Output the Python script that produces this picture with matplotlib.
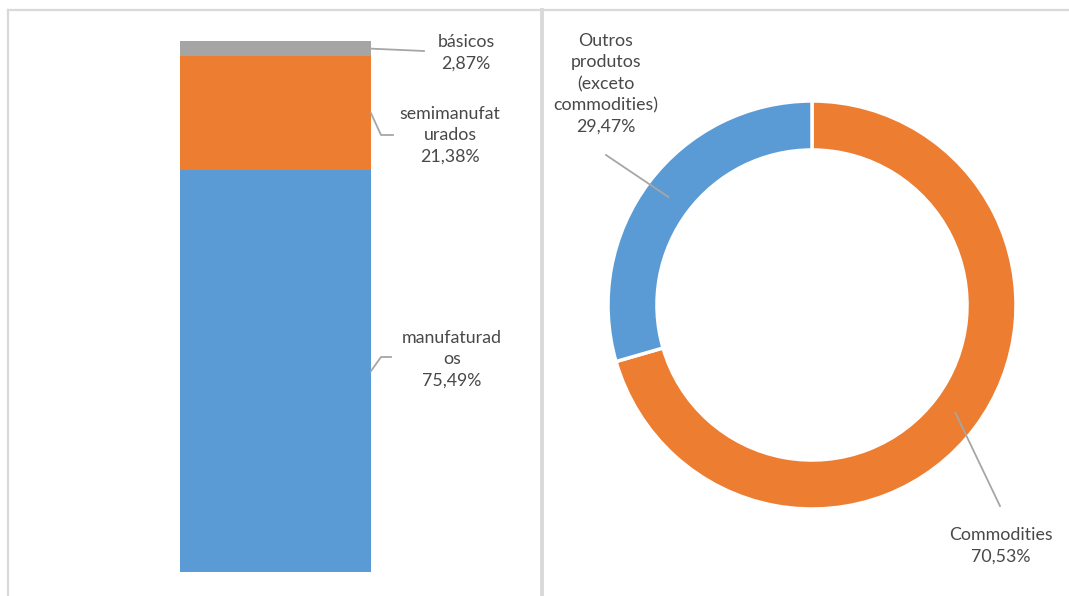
import matplotlib.pyplot as plt
import numpy as np

# export mix by product type (stacked bar) and commodities share (donut)
bar_labels = ['manufaturad\nos', 'semimanufat\nurados', 'básicos']
bar_values = [75.49, 21.38, 2.87]
bar_colors = ['#5B9BD5', '#ED7D31', '#A5A5A5']

pie_labels = ['Commodities', 'Outros\nprodutos\n(exceto\ncommodities)']
pie_values = [70.53, 29.47]
pie_colors = ['#ED7D31', '#5B9BD5']

W, H = 1069, 596
TXT = '#484848'
LEAD = '#A6A6A6'
plt.rcParams['font.family'] = ['Lato', 'DejaVu Sans']

def fmt(v):
    return ('%.2f%%' % v).replace('.', ',')

def box(x0, y0, x1, y1):
    # pixel box (top-left origin) -> figure fraction rect
    return [x0 / W, 1 - y1 / H, (x1 - x0) / W, (y1 - y0) / H]

fig = plt.figure(figsize=(W / 100, H / 100), dpi=100)

# overlay in pixel coords for frames, leader lines and labels (drawn on top)
ov = fig.add_axes([0, 0, 1, 1])
ov.set_xlim(0, W)
ov.set_ylim(H, 0)
ov.axis('off')
ov.set_zorder(10)
ov.patch.set_alpha(0)
ov.plot([8, W], [10, 10], color='#D9D9D9', lw=1.6)
ov.plot([8, 8], [10, H], color='#D9D9D9', lw=1.6)
ov.plot([542, 542], [10, H], color='#D9D9D9', lw=2.8)

def to_px(ax, x, y):
    p = ax.transData.transform((x, y))
    return ov.transData.inverted().transform(p)

# stacked bar
axb = fig.add_axes(box(180, 41, 371, 572))
bottom = 0
mids = []
for v, c in zip(bar_values, bar_colors):
    axb.bar(0, v, width=1, bottom=bottom, color=c)
    mids.append(bottom + v / 2)
    bottom += v
axb.set_xlim(-0.5, 0.5)
axb.set_ylim(0, bottom)
axb.axis('off')

# label positions for bar segments: (text centre x, text centre y, leader path tail)
bar_text = [(452, 359), (450, 135), (466, 53)]
bar_tail = [[(381, 357), (391, 357)], [(381, 135), (393, 135)], [(424, 51)]]
for lab, v, m, (tx, ty), tail in zip(bar_labels, bar_values, mids, bar_text, bar_tail):
    ax0, ay0 = to_px(axb, 0.5, m)
    pts = [(ax0, ay0)] + tail
    ov.plot([p[0] for p in pts], [p[1] for p in pts], color=LEAD, lw=1.3)
    ov.text(tx, ty, lab + '\n' + fmt(v), ha='center', va='center',
            fontsize=12.8, color=TXT, linespacing=1.42)

# donut
axp = fig.add_axes(box(608, 101, 1016, 509))
wedges, _ = axp.pie(pie_values, colors=pie_colors, startangle=90, counterclock=False,
                    radius=1, wedgeprops=dict(width=0.24, edgecolor='white', linewidth=2.5))
axp.set_xlim(-1, 1)
axp.set_ylim(-1, 1)
axp.set_aspect('equal')
axp.axis('off')

pie_text = [(1001, 546), (606, 84)]
pie_tail = [(1000, 506), (606, 155)]
for w, lab, v, (tx, ty), tail in zip(wedges, pie_labels, pie_values, pie_text, pie_tail):
    ang = np.deg2rad((w.theta1 + w.theta2) / 2)
    ax0, ay0 = to_px(axp, 0.88 * np.cos(ang), 0.88 * np.sin(ang))
    ov.plot([ax0, tail[0]], [ay0, tail[1]], color=LEAD, lw=1.3)
    ov.text(tx, ty, lab + '\n' + fmt(v), ha='center', va='center',
            fontsize=12.8, color=TXT, linespacing=1.42)

fig.savefig('out.png', dpi=100)
